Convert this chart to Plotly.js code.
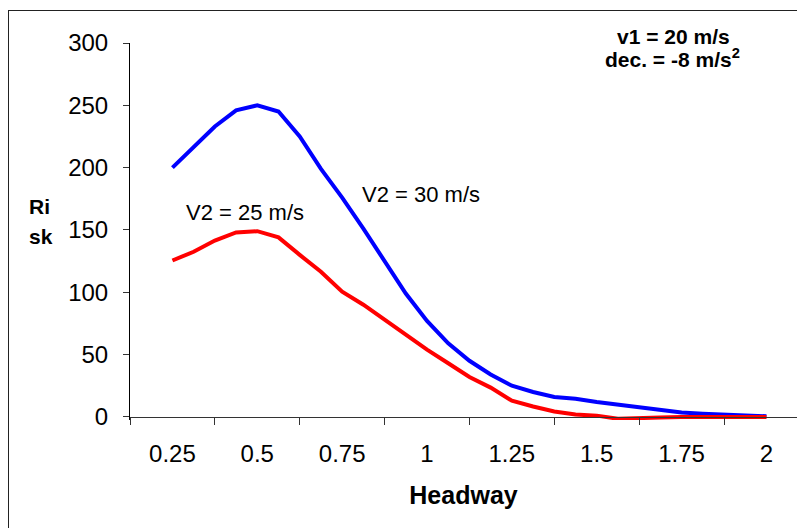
<!DOCTYPE html>
<html>
<head>
<meta charset="utf-8">
<script src="https://cdn.plot.ly/plotly-3.0.1.min.js"></script>
<style>
html,body{margin:0;padding:0;background:#fff;overflow:hidden;}
#chart{width:797px;height:528px;position:relative;}
#frame{position:absolute;left:8px;top:10px;width:820px;height:560px;border:1px solid #222;pointer-events:none;}
</style>
</head>
<body>
<div id="chart"></div>
<div id="frame"></div>
<script>
// Headway values (s)
const headway = [0.25,0.3125,0.375,0.4375,0.5,0.5625,0.625,0.6875,0.75,0.8125,0.875,0.9375,1.0,
  1.0625,1.125,1.1875,1.25,1.3125,1.375,1.4375,1.5,1.5625,1.625,1.6875,1.75,1.8125,1.875,1.9375,2.0];
// Risk, V2 = 30 m/s
const riskV30 = [200,217,233,246,250,245,225,199,176,151,125,99,77,
  59,45,34,25,20,16,14.6,12,10,7.5,5.8,3.5,2.5,1.7,1,0.5];
// Risk, V2 = 25 m/s
const riskV25 = [125.5,132.5,141.5,148,149,144,130,116.5,100.5,90,78,66,54,
  43,32,23.5,13,8.3,4.3,2,1,-1.5,-1.3,-0.5,0,0,0,0,0];
const xTickLabels = ['0.25','0.5','0.75','1','1.25','1.5','1.75','2'];
const xTickVals = [0.25,0.5,0.75,1,1.25,1.5,1.75,2];
const yTickVals = [0,50,100,150,200,250,300];

const step = xTickVals[1]-xTickVals[0];
const tickMarkVals = xTickVals.map(v => v - step/2);
const xRange = [xTickVals[0]-step/2, 2.09];
const yRange = [-2.5, 300];
const zeroPos = (0 - yRange[0])/(yRange[1]-yRange[0]);
const font = 'Liberation Sans, Arial, sans-serif';

const traces = [
  {x: headway, y: riskV30, type:'scatter', mode:'lines', name:'V2 = 30 m/s',
   line:{color:'#0000ff', width:4}},
  {x: headway, y: riskV25, type:'scatter', mode:'lines', name:'V2 = 25 m/s',
   line:{color:'#ff0000', width:4}}
];

// plot area: 0 -> y=417, 300 -> y=43
const T = 43, B = 108, L = 130, W = 667, H = 528 - T - B;
const px = v => (v - L)/W;
const py = v => (T + H - v)/H;

const layout = {
  width:797, height:528,
  margin:{l:L, r:0, t:T, b:B},
  paper_bgcolor:'#fff', plot_bgcolor:'#fff',
  showlegend:false,
  font:{family:font, color:'#000', size:22},
  xaxis:{
    range:xRange, anchor:'free', position:zeroPos,
    tickmode:'array', tickvals:xTickVals, ticktext:xTickLabels,
    ticks:'', showgrid:false, zeroline:false, showline:true, linecolor:'#333', linewidth:1,
    tickfont:{size:24, family:font}, ticklabelstandoff:15,
    title:{text:'<b>Headway</b>', font:{size:25, family:font}, standoff:20}
  },
  xaxis2:{
    range:xRange, overlaying:'x', anchor:'free', position:zeroPos, side:'bottom',
    tickmode:'array', tickvals:tickMarkVals, ticks:'outside', ticklen:7, tickcolor:'#333', tickwidth:1,
    showticklabels:false, showgrid:false, zeroline:false, showline:false
  },
  yaxis:{
    range:yRange, tickmode:'array', tickvals:yTickVals,
    ticks:'outside', ticklen:6, tickcolor:'#333', tickwidth:1,
    showgrid:false, zeroline:false, showline:true, linecolor:'#000', linewidth:1,
    tickfont:{size:24, family:font}, ticklabelstandoff:10
  },
  annotations:[
    {xref:'paper', yref:'paper', x:px(27), y:py(206), xanchor:'left', yanchor:'middle',
     text:'<b>Ri</b>', showarrow:false, font:{size:21, family:font}},
    {xref:'paper', yref:'paper', x:px(27), y:py(236), xanchor:'left', yanchor:'middle',
     text:'<b>sk</b>', showarrow:false, font:{size:21, family:font}},
    {xref:'paper', yref:'paper', x:px(673), y:py(37), xanchor:'center', yanchor:'middle',
     text:'<b>v1 = 20 m/s</b>', showarrow:false, font:{size:21, family:font}},
    {xref:'paper', yref:'paper', x:px(672), y:py(58), xanchor:'center', yanchor:'middle',
     text:'<b>dec. = -8 m/s<sup>2</sup></b>', showarrow:false, font:{size:21, family:font}},
    {xref:'paper', yref:'paper', x:px(421), y:py(194), xanchor:'center', yanchor:'middle',
     text:'V2 = 30 m/s', showarrow:false, font:{size:22, family:font}},
    {xref:'paper', yref:'paper', x:px(245), y:py(213), xanchor:'center', yanchor:'middle',
     text:'V2 = 25 m/s', showarrow:false, font:{size:22, family:font}}
  ]
};

// bind secondary x axis with an empty trace so its tick marks are drawn
traces.push({x:[xRange[0]], y:[null], xaxis:'x2', yaxis:'y', type:'scatter', mode:'lines',
  hoverinfo:'skip', showlegend:false});

Plotly.newPlot('chart', traces, layout, {displayModeBar:false, staticPlot:true});
</script>
</body>
</html>
